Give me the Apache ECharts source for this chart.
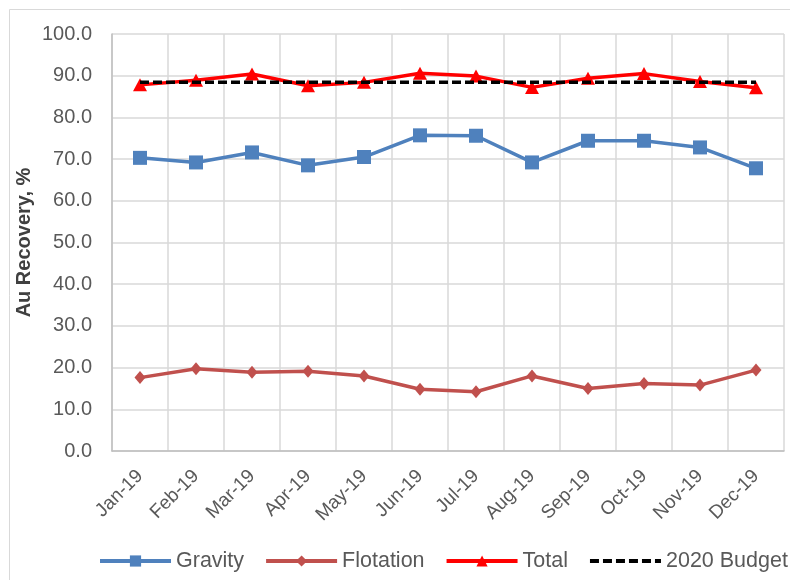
<!DOCTYPE html>
<html><head><meta charset="utf-8">
<script src="https://cdn.jsdelivr.net/npm/echarts@6/dist/echarts.min.js"></script>
<style>html,body{margin:0;padding:0;background:#fff}#c{width:790px;height:580px}</style>
</head><body><div id="c"></div>
<script>
const months = ['Jan-19','Feb-19','Mar-19','Apr-19','May-19','Jun-19','Jul-19','Aug-19','Sep-19','Oct-19','Nov-19','Dec-19'];
const gravity = [70.3,69.2,71.6,68.5,70.5,75.7,75.6,69.2,74.4,74.4,72.8,67.8];
const flotation = [17.6,19.7,18.9,19.1,18.0,14.8,14.2,18.0,15.0,16.2,15.8,19.4];
const total = [87.8,88.9,90.4,87.6,88.4,90.6,89.9,87.2,89.4,90.5,88.6,87.1];
const budget = [88.4,88.4,88.4,88.4,88.4,88.4,88.4,88.4,88.4,88.4,88.4,88.4];

const chart = echarts.init(document.getElementById('c'), null, {renderer:'canvas'});
const font = 'Arial, "Liberation Sans", sans-serif';
chart.setOption({
  animation:false,
  backgroundColor:'#fff',
  graphic:[{type:'rect',shape:{x:9.5,y:9.5,width:800,height:600},style:{fill:'none',stroke:'#d9d9d9',lineWidth:1}}],
  grid:{left:112,right:6,top:34,bottom:129},
  legend:{
    top:550,left:98,width:740,itemWidth:71,itemHeight:14,itemGap:20,padding:0,
    lineStyle:{width:4},
    textStyle:{fontFamily:font,fontSize:21.5,color:'#595959'},
    data:['Gravity','Flotation','Total',{name:'2020 Budget',itemStyle:{opacity:0}}]
  },
  xAxis:{
    type:'category',data:months,boundaryGap:true,
    axisLine:{lineStyle:{color:'#bfbfbf',width:1.5}},
    axisTick:{show:false},
    splitLine:{show:true,lineStyle:{color:'#d9d9d9',width:1.5}},
    axisLabel:{rotate:45,fontFamily:font,fontSize:19,color:'#595959',margin:22,interval:0}
  },
  yAxis:{
    type:'value',min:0,max:100,interval:10,
    name:'Au Recovery, %',nameLocation:'middle',nameGap:78,nameMoveOverlap:false,
    nameTextStyle:{fontFamily:font,fontSize:20,fontWeight:'bold',color:'#404040'},
    axisLine:{show:true,lineStyle:{color:'#bfbfbf',width:1.5}},
    axisTick:{show:false},
    splitLine:{lineStyle:{color:'#d9d9d9',width:1.5}},
    axisLabel:{fontFamily:font,fontSize:20,color:'#595959',margin:20,formatter:v=>v.toFixed(1)}
  },
  series:[
    {name:'Gravity',type:'line',data:gravity,symbol:'rect',symbolSize:14,
     lineStyle:{color:'#4F81BD',width:3.5},itemStyle:{color:'#4F81BD'}},
    {name:'Flotation',type:'line',data:flotation,symbol:'diamond',symbolSize:[11,13],
     lineStyle:{color:'#C0504D',width:3.5},itemStyle:{color:'#C0504D'}},
    {name:'Total',type:'line',data:total,symbol:'triangle',symbolSize:[14,13],
     lineStyle:{color:'#FF0000',width:3.5},itemStyle:{color:'#FF0000'}},
    {name:'2020 Budget',type:'line',data:budget,symbol:'none',z:5,
     lineStyle:{color:'#000',width:3.5,type:[9,4]},itemStyle:{color:'#000'}}
  ]
});
</script></body></html>
